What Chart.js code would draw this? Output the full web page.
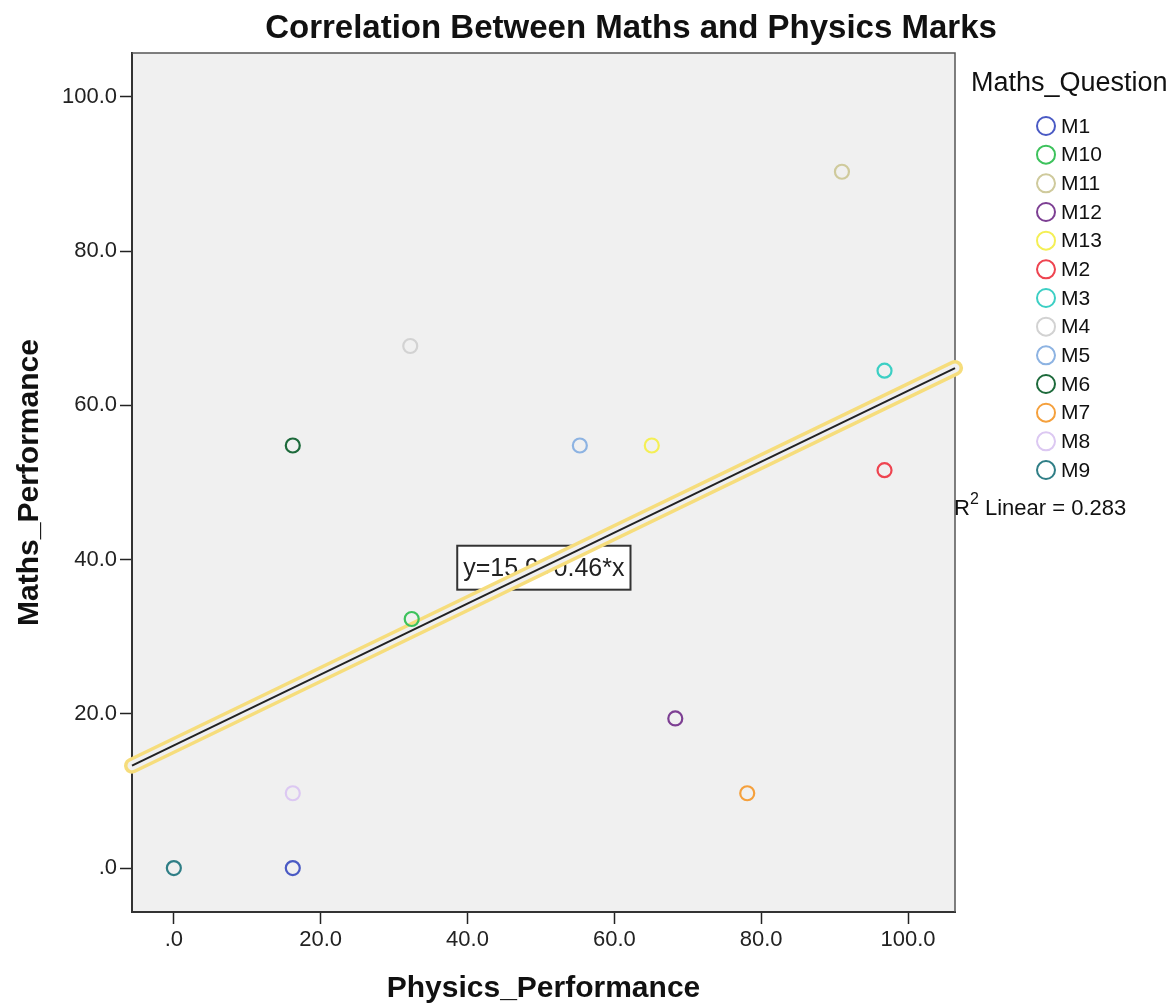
<!DOCTYPE html>
<html>
<head>
<meta charset="utf-8">
<script src="https://cdn.jsdelivr.net/npm/chart.js@4.4.1/dist/chart.umd.min.js"></script>
<style>
  body { margin: 0; background: #fff; }
</style>
</head>
<body>
<canvas id="chart" width="1174" height="1008"></canvas>
<script>
// data
const questions = ['M1', 'M10', 'M11', 'M12', 'M13', 'M2', 'M3', 'M4', 'M5', 'M6', 'M7', 'M8', 'M9'];
const physicsPerf = [16.2, 32.4, 91.0, 68.3, 65.1, 96.8, 96.8, 32.2, 55.3, 16.2, 78.1, 16.2, 0];
const mathsPerf = [0, 32.3, 90.3, 19.4, 54.8, 51.6, 64.5, 67.7, 54.8, 54.8, 9.7, 9.7, 0];
const questionColors = ['#4a5ac4', '#3dc25c', '#cfca9c', '#7d3f93', '#f4ef55', '#ee4450', '#3ccfc4',
  '#d2d2d2', '#8db3e2', '#1d6a3b', '#f5a03c', '#dcc8f2', '#2f7e86'];
const tickValues = [0, 20, 40, 60, 80, 100];
const fitIntercept = 15.9;
const fitSlope = 0.46;
const rSquared = 0.283;

const xMin = -5.7, xMax = 106.4;
const yMin = -5.7, yMax = 105.7;
const FONT = '"Liberation Sans", Arial, sans-serif';

function fmtTick(v) {
  return v === 0 ? '.0' : v.toFixed(1);
}

const fitPoints = [
  { x: xMin, y: fitIntercept + fitSlope * xMin },
  { x: xMax, y: fitIntercept + fitSlope * xMax }
];

const datasets = questions.map((q, i) => ({
  type: 'scatter',
  label: q,
  data: [{ x: physicsPerf[i], y: mathsPerf[i] }],
  borderColor: questionColors[i],
  backgroundColor: 'rgba(0,0,0,0)',
  pointRadius: 7,
  pointBorderWidth: 2.2,
  pointHoverRadius: 7
}));

// fit line: black core, background gap, yellow halo (drawn bottom-up)
datasets.push({ type: 'line', label: 'fit', data: fitPoints, borderColor: '#222', borderWidth: 2, pointRadius: 0, clip: false });
datasets.push({ type: 'line', label: 'gap', data: fitPoints, borderColor: '#f0f0f0', borderWidth: 9, borderCapStyle: 'round', pointRadius: 0, clip: false });
datasets.push({ type: 'line', label: 'halo', data: fitPoints, borderColor: '#f6dd7c', borderWidth: 16, borderCapStyle: 'round', pointRadius: 0, clip: false });

const spssDecor = {
  id: 'spssDecor',
  beforeDraw(chart) {
    const { ctx, chartArea: a } = chart;
    ctx.save();
    ctx.fillStyle = '#f0f0f0';
    ctx.fillRect(a.left, a.top, a.right - a.left, a.bottom - a.top);
    ctx.restore();
  },
  beforeDatasetsDraw(chart) {
    const { ctx, chartArea: a } = chart;
    const xs = chart.scales.x, ys = chart.scales.y;
    ctx.save();
    // top / right frame
    ctx.strokeStyle = '#555';
    ctx.lineWidth = 1.5;
    ctx.beginPath();
    ctx.moveTo(a.left, a.top);
    ctx.lineTo(a.right, a.top);
    ctx.lineTo(a.right, a.bottom);
    ctx.stroke();
    // equation label box
    const bx0 = xs.getPixelForValue(38.6), bx1 = xs.getPixelForValue(62.2);
    const by0 = ys.getPixelForValue(41.8), by1 = ys.getPixelForValue(36.1);
    ctx.fillStyle = '#fff';
    ctx.fillRect(bx0, by0, bx1 - bx0, by1 - by0);
    ctx.strokeStyle = '#333';
    ctx.lineWidth = 2;
    ctx.strokeRect(bx0, by0, bx1 - bx0, by1 - by0);
    ctx.fillStyle = '#222';
    ctx.font = '25px ' + FONT;
    ctx.textBaseline = 'middle';
    ctx.textAlign = 'center';
    ctx.fillText('y=' + fitIntercept.toFixed(1) + '+' + fitSlope.toFixed(2) + '*x', (bx0 + bx1) / 2, (by0 + by1) / 2 + 1);
    ctx.restore();
  },
  afterDraw(chart) {
    const { ctx } = chart;
    ctx.save();
    ctx.fillStyle = '#111';
    // main title
    ctx.font = 'bold 33px ' + FONT;
    ctx.textAlign = 'center';
    ctx.textBaseline = 'middle';
    ctx.fillText('Correlation Between Maths and Physics Marks', 631, 29);
    // legend
    ctx.textAlign = 'left';
    ctx.font = '27px ' + FONT;
    ctx.fillText('Maths_Question', 971, 84);
    ctx.font = '21px ' + FONT;
    questions.forEach((q, i) => {
      const y = 126 + i * 28.67;
      ctx.strokeStyle = questionColors[i];
      ctx.lineWidth = 2;
      ctx.beginPath();
      ctx.arc(1046, y, 9, 0, Math.PI * 2);
      ctx.stroke();
      ctx.fillStyle = '#111';
      ctx.fillText(q, 1061, y + 1);
    });
    // R squared note
    ctx.font = '22px ' + FONT;
    ctx.fillText('R', 954, 509);
    const rw = ctx.measureText('R').width;
    ctx.font = '16px ' + FONT;
    ctx.fillText('2', 954 + rw, 500);
    const sw = ctx.measureText('2').width;
    ctx.font = '22px ' + FONT;
    ctx.fillText(' Linear = ' + rSquared.toFixed(3), 954 + rw + sw, 509);
    ctx.restore();
  }
};

new Chart(document.getElementById('chart'), {
  data: { datasets: datasets },
  options: {
    responsive: false,
    animation: false,
    layout: { padding: { top: 53, right: 219, left: 0, bottom: 0 } },
    plugins: {
      legend: { display: false },
      tooltip: { enabled: false }
    },
    scales: {
      x: {
        type: 'linear',
        position: 'bottom',
        min: xMin,
        max: xMax,
        afterBuildTicks: scale => { scale.ticks = tickValues.map(v => ({ value: v })); },
        afterFit: scale => { scale.height = 96; },
        ticks: { callback: v => fmtTick(v), color: '#222', font: { family: FONT, size: 22 }, padding: 3, maxRotation: 0 },
        grid: { drawOnChartArea: false, drawTicks: true, tickLength: 12, color: '#222', tickWidth: 1.5 },
        border: { color: '#333', width: 2 },
        title: { display: true, text: 'Physics_Performance', color: '#111', font: { family: FONT, size: 30, weight: 'bold' }, padding: { top: 4, bottom: 1 } }
      },
      y: {
        type: 'linear',
        position: 'left',
        min: yMin,
        max: yMax,
        afterBuildTicks: scale => { scale.ticks = tickValues.map(v => ({ value: v })); },
        afterFit: scale => { scale.width = 132; },
        ticks: { callback: v => fmtTick(v), color: '#222', font: { family: FONT, size: 22 }, padding: 3 },
        grid: { drawOnChartArea: false, drawTicks: true, tickLength: 12, color: '#222', tickWidth: 1.5 },
        border: { color: '#333', width: 2 },
        title: { display: true, text: 'Maths_Performance', color: '#111', font: { family: FONT, size: 30, weight: 'bold' }, padding: { top: 12, bottom: 4 } }
      }
    }
  },
  plugins: [spssDecor]
});
</script>
</body>
</html>
